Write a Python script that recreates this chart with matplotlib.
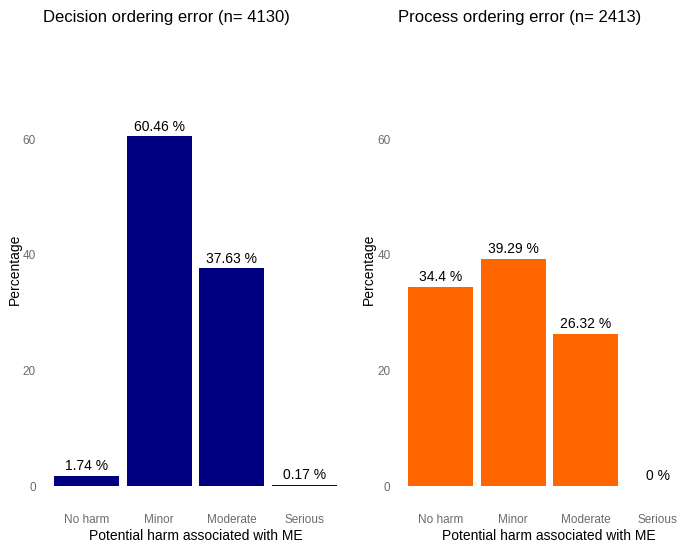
import matplotlib
matplotlib.use("Agg")
import matplotlib.pyplot as plt

categories = ["No harm", "Minor", "Moderate", "Serious"]
decision_pct = [1.74, 60.46, 37.63, 0.17]
process_pct = [34.4, 39.29, 26.32, 0]
decision_labels = ["1.74 %", "60.46 %", "37.63 %", "0.17 %"]
process_labels = ["34.4 %", "39.29 %", "26.32 %", "0 %"]
titles = ["Decision ordering error (n= 4130)", "Process ordering error (n= 2413)"]
yticks = [0, 20, 40, 60]

plt.rcParams["font.family"] = ["Liberation Sans", "DejaVu Sans"]

fig = plt.figure(figsize=(6.85, 5.47), dpi=100)
W, H = 685, 547


def panel(x0, x1, values, labels, color, title):
    # positions in pixels -> figure fraction
    top, bottom = 30.6, 507.7
    ax = fig.add_axes([x0 / W, 1 - bottom / H, (x1 - x0) / W, (bottom - top) / H])
    xs = list(range(1, len(categories) + 1))
    ax.bar(xs, values, width=0.9, color=color, linewidth=0)
    for x, v, lab in zip(xs, values, labels):
        ax.annotate(lab, (x, v), xytext=(0, 2), textcoords="offset points",
                    ha="center", va="bottom", fontsize=10, color="black")
    ax.set_xlim(0.4, 4.6)
    ax.set_ylim(-3.75, 78.75)
    ax.set_xticks(xs)
    ax.set_xticklabels(categories)
    ax.set_yticks(yticks)
    ax.tick_params(axis="both", length=0, labelsize=8.5, labelcolor="#6b6b6b")
    ax.tick_params(axis="x", pad=4.5)
    ax.tick_params(axis="y", pad=5)
    for s in ax.spines.values():
        s.set_visible(False)
    ax.set_xlabel("Potential harm associated with ME", fontsize=10, labelpad=2)
    ax.set_ylabel("Percentage", fontsize=10, labelpad=1)
    ax.set_title(title, loc="left", fontsize=12, pad=6)
    return ax


panel(43, 348, decision_pct, decision_labels, "#000080", titles[0])
panel(397.5, 701, process_pct, process_labels, "#FF6600", titles[1])

fig.savefig("out.png", dpi=100)
